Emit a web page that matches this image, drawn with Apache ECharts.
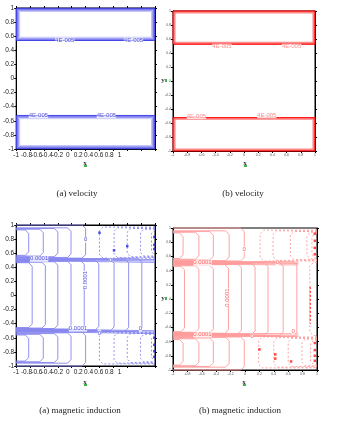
<!DOCTYPE html>
<html><head><meta charset="utf-8">
<script src="https://cdn.jsdelivr.net/npm/echarts@6/dist/echarts.min.js"></script>
<style>html,body{margin:0;padding:0;background:#fff}#c{width:345px;height:425px}</style>
</head><body><div id="c"></div>
<script>
// ---------------- DATA ----------------
const tickLabels = ['-1','-0.8','-0.6','-0.4','-0.2','0','0.2','0.4','0.6','0.8','1'];
const captions = ['(a) velocity','(b) velocity','(a) magnetic induction','(b) magnetic induction'];

// velocity (a): nested contour insets of the two flow cells and cell edges
const velAInsets = [0.004, 0.012, 0.022, 0.034, 0.05];
const velAUpperEdge = 0.535;
const velALowerEdge = -0.52;
const velALabels = [[-0.3, 0.536, '4E-005'], [0.69, 0.536, '4E-005'], [-0.68, -0.52, '4E-005'], [0.3, -0.52, '4E-005']];
// velocity (b)
const velBInsets = [0.004, 0.01, 0.017, 0.026];
const velBUpperEdge = 0.524;
const velBLowerEdge = -0.519;
const velBLabels = [[-0.31, 0.49, '4E-005'], [0.67, 0.49, '4E-005'], [-0.67, -0.5, '4E-005'], [0.32, -0.49, '4E-005']];

// magnetic induction (a)
const cMidX = [-0.77, -0.58, -0.40, -0.21, -0.02, 0.19, 0.41, 0.62, 0.81];
const cMidTopY = [0.465, 0.472, 0.479, 0.486, 0.493, 0.50, 0.507, 0.514, 0.521];
const cMidBotY = [-0.455, -0.462, -0.469, -0.476, -0.483, -0.49, -0.497, -0.504, -0.511];
const cMidDashX = [];
const cTopSolidX = [-0.82, -0.61, -0.40, -0.21, 0.0];
const cTopSolidHigh = [0.93, 0.94, 0.95, 0.96, 1.0];
const cTopSolidLow = [0.57, 0.56, 0.55, 0.54, 0.53];
const cTopDashX = [0.2, 0.41, 0.6, 0.79, 0.95];
const cTopDashHigh = [0.97, 0.96, 0.95, 0.94, 0.93];
const cTopDashLow = [0.53, 0.54, 0.55, 0.56, 0.57];
const cBotSolidX = [-0.82, -0.61, -0.40, -0.21, 0.0];
const cBotSolidHigh = [-0.56, -0.55, -0.54, -0.53, -0.52];
const cBotSolidLow = [-0.93, -0.94, -0.95, -0.96, -1.0];
const cBotDashX = [0.2, 0.41, 0.6, 0.79, 0.95];
const cBotDashHigh = [-0.52, -0.53, -0.54, -0.55, -0.56];
const cBotDashLow = [-0.97, -0.96, -0.95, -0.94, -0.93];
const cBandLeftY = [0.535, 0.515, 0.495, -0.47, -0.49, -0.51];
const cBandRightY = [0.51, 0.49, 0.47, -0.5, -0.52, -0.54];
const cBandEndX = 1;
const cLabels = [[-0.67, 0.52, '0.0001', 0], [0.36, 0.5, '0', 0], [0.0, 0.79, '0', 0], [0.0, 0.22, '0.0001', 90],
                 [-0.11, -0.47, '0.0001', 0], [0.79, -0.47, '0', 0], [0.2, -0.53, '0', 0]];
const cDots = [[0.2, 0.89], [0.41, 0.64], [0.6, 0.7], [0.99, 0.83], [0.99, 0.72], [0.99, 0.66],
               [0.99, -0.6], [0.99, -0.7], [0.99, -0.79], [0.99, -0.87]];

// magnetic induction (b)
const dMidX = [-0.84, -0.64, -0.44, -0.23, -0.05, 0.14, 0.32, 0.53, 0.72];
const dMidTopY = [0.46, 0.468, 0.476, 0.484, 0.492, 0.50, 0.508, 0.516, 0.524];
const dMidBotY = [-0.46, -0.468, -0.476, -0.484, -0.492, -0.50, -0.508, -0.516, -0.524];
const dMidDashX = [0.9];
const dTopSolidX = [-0.86, -0.64, -0.44, -0.22, -0.01];
const dTopSolidHigh = [0.93, 0.94, 0.95, 0.96, 1.0];
const dTopSolidLow = [0.57, 0.56, 0.55, 0.54, 0.535];
const dTopDashX = [0.21, 0.39, 0.63, 0.86, 0.93];
const dTopDashHigh = [0.97, 0.96, 0.95, 0.94, 0.93];
const dTopDashLow = [0.535, 0.545, 0.555, 0.565, 0.575];
const dBotSolidX = [-0.86, -0.64, -0.44, -0.22, -0.01];
const dBotSolidHigh = [-0.57, -0.56, -0.55, -0.54, -0.535];
const dBotSolidLow = [-0.93, -0.94, -0.95, -0.96, -1.0];
const dBotDashX = [0.19, 0.4, 0.6, 0.79, 0.91];
const dBotDashHigh = [-0.535, -0.545, -0.555, -0.565, -0.575];
const dBotDashLow = [-0.97, -0.96, -0.95, -0.94, -0.93];
const dBandLeftY = [0.53, 0.51, 0.49, -0.48, -0.5, -0.52];
const dBandRightY = [0.52, 0.5, 0.48, -0.49, -0.51, -0.53];
const dBandEndX = 0.74;
const dLabels = [[-0.59, 0.51, '0.0001', 0], [0.45, 0.51, '0', 0], [-0.01, 0.7, '0', 0], [-0.24, 0.02, '0.0001', 90],
                 [-0.59, -0.5, '0.0001', 0], [0.1, -0.53, '0', 0], [0.67, -0.46, '0', 0]];
const dDots = [[0.2, -0.71], [0.42, -0.78], [0.42, -0.84], [0.64, -0.88], [0.97, 0.92], [0.97, 0.82],
               [0.97, 0.72], [0.97, 0.63], [0.97, -0.62], [0.97, -0.72], [0.97, -0.8], [0.97, -0.87]];
const dDotted = [[0.906, 0.17], [0.906, -0.35]];

// ---------------- BUILD ----------------
const fmt = v => { const i = Math.round((v + 1) / 0.2); return (i >= 0 && i < tickLabels.length && v <= 1.001) ? tickLabels[i] : ''; };
const grids = [
  {left: 14, top: 8, width: 141, height: 141},
  {left: 173, top: 11, width: 142, height: 140},
  {left: 14, top: 225, width: 141, height: 141},
  {left: 173, top: 228, width: 144, height: 142}
];
const lab = {fontFamily: 'Liberation Sans', fontSize: 6.5, color: '#222', margin: 2, formatter: fmt};
const tiny = {fontFamily: 'Liberation Sans', fontSize: 3.5, color: '#555', margin: 2, formatter: fmt};
const xAxis = [], yAxis = [];
function mainX(g, showLab) {
  xAxis.push({gridIndex: g, type: 'value', min: -1, max: 1, interval: 0.2, position: 'bottom',
    axisLine: {show: true, onZero: false, lineStyle: {color: '#000', width: 1}},
    axisTick: {show: true, length: 2, lineStyle: {color: '#000'}},
    axisLabel: showLab ? tiny : {show: false}, splitLine: {show: false}});
  return xAxis.length - 1;
}
function topX(g) {
  xAxis.push({gridIndex: g, type: 'value', min: -1, max: 1, interval: 0.2, position: 'top',
    axisLine: {show: true, onZero: false, lineStyle: {color: '#000'}},
    axisTick: {show: true, length: 2, lineStyle: {color: '#000'}}, axisLabel: {show: false}, splitLine: {show: false}});
}
function squeezedX(g) {
  xAxis.push({gridIndex: g, type: 'value', min: -1, max: 1.686, interval: 0.2, position: 'bottom',
    axisLine: {show: false, onZero: false}, axisTick: {show: false}, axisLabel: Object.assign({}, lab, {margin: 3}), splitLine: {show: false}});
}
function mainY(g, style) {
  yAxis.push({gridIndex: g, type: 'value', min: -1, max: 1, interval: 0.2,
    axisLine: {show: true, onZero: false, lineStyle: {color: '#000'}},
    axisTick: {show: true, length: 2, lineStyle: {color: '#000'}},
    axisLabel: style, splitLine: {show: false}});
  yAxis.push({gridIndex: g, type: 'value', min: -1, max: 1, interval: 0.2, position: 'right',
    axisLine: {show: true, onZero: false, lineStyle: {color: '#000'}},
    axisTick: {show: true, length: 2, lineStyle: {color: '#000'}}, axisLabel: {show: false}, splitLine: {show: false}});
  return yAxis.length - 2;
}
const xa = mainX(0, false); topX(0); squeezedX(0);
const xb = mainX(1, true);
const xc = mainX(2, false); topX(2); squeezedX(2);
const xd = mainX(3, true);
const ya = mainY(0, lab), yb = mainY(1, tiny), yc = mainY(2, lab), yd = mainY(3, tiny);

const series = [];
function addLine(path, xi, yi, color, width, dashed) {
  series.push({type: 'line', xAxisIndex: xi, yAxisIndex: yi, data: path, symbol: 'none', silent: true,
    animation: false, clip: false, lineStyle: {color: color, width: width, type: dashed ? [2, 2] : 'solid'}, z: 2});
}
function addLabels(items, xi, yi, color) {
  series.push({type: 'scatter', xAxisIndex: xi, yAxisIndex: yi, symbolSize: 0, silent: true, animation: false, z: 5,
    data: items.map(d => ({value: [d[0], d[1]], name: d[2], label: {rotate: d[3] || 0}})),
    label: {show: true, position: 'inside', formatter: p => p.name, color: color, fontSize: 6,
      fontFamily: 'Liberation Sans', backgroundColor: '#fff', padding: [0, 0]}});
}
function addDots(items, xi, yi, color) {
  series.push({type: 'scatter', xAxisIndex: xi, yAxisIndex: yi, symbol: 'rect', symbolSize: 2.5, silent: true,
    animation: false, z: 4, itemStyle: {color: color}, data: items});
}
function velocity(insets, up, lo, xi, yi, colors, width) {
  insets.forEach((o, k) => {
    addLine([[-1 + o, up + o], [1 - o, up + o], [1 - o, 1 - o], [-1 + o, 1 - o], [-1 + o, up + o]], xi, yi, colors[k], width);
    addLine([[-1 + o, lo - o], [1 - o, lo - o], [1 - o, -1 + o], [-1 + o, -1 + o], [-1 + o, lo - o]], xi, yi, colors[k], width);
  });
}
const b = 0.05, dr = 0.05;
function leftBend(x0, yHigh, yLow) {
  return [[-1, yHigh], [x0 - b, yHigh], [x0, yHigh - dr], [x0, yLow + dr], [x0 - b, yLow], [-1, yLow]];
}
function rightBend(x0, yHigh, yLow) {
  return [[1, yHigh], [x0 + b, yHigh], [x0, yHigh - dr], [x0, yLow + dr], [x0 + b, yLow], [1, yLow]];
}
function induction(P, xi, yi, color, w) {
  P.midX.forEach((x, k) => addLine(leftBend(x, P.midTop[k], P.midBot[k]), xi, yi, color, w));
  P.midDX.forEach(x => addLine(rightBend(x, P.midTop[P.midTop.length - 1] - 0.01, P.midBot[P.midBot.length - 1] + 0.01), xi, yi, color, w, true));
  P.topSX.forEach((x, k) => addLine(leftBend(x, P.topSH[k], P.topSL[k]), xi, yi, color, w));
  P.topDX.forEach((x, k) => addLine(rightBend(x, P.topDH[k], P.topDL[k]), xi, yi, color, w, true));
  P.botSX.forEach((x, k) => addLine(leftBend(x, P.botSH[k], P.botSL[k]), xi, yi, color, w));
  P.botDX.forEach((x, k) => addLine(rightBend(x, P.botDH[k], P.botDL[k]), xi, yi, color, w, true));
  P.bandL.forEach((y, k) => addLine([[-1, y], [P.bandEnd, P.bandR[k]]], xi, yi, color, w));
}

velocity(velAInsets, velAUpperEdge, velALowerEdge, xa, ya, ['#3a3ae6', '#5656ec', '#7474f0', '#9898f4', '#c4c4f9'], 1);
addLabels(velALabels, xa, ya, '#2828d8');
velocity(velBInsets, velBUpperEdge, velBLowerEdge, xb, yb, ['#ff0000', '#ff1a1a', '#ff4848', '#ff8a8a'], 1.4);
addLabels(velBLabels, xb, yb, '#ff7070');

induction({midX: cMidX, midTop: cMidTopY, midBot: cMidBotY, midDX: cMidDashX, topSX: cTopSolidX, topSH: cTopSolidHigh, topSL: cTopSolidLow,
  topDX: cTopDashX, topDH: cTopDashHigh, topDL: cTopDashLow, botSX: cBotSolidX, botSH: cBotSolidHigh, botSL: cBotSolidLow,
  botDX: cBotDashX, botDH: cBotDashHigh, botDL: cBotDashLow, bandL: cBandLeftY, bandR: cBandRightY, bandEnd: cBandEndX}, xc, yc, '#8686ee', 0.9);
addDots(cDots, xc, yc, '#2424e0');
addLabels(cLabels, xc, yc, '#2828d8');

induction({midX: dMidX, midTop: dMidTopY, midBot: dMidBotY, midDX: dMidDashX, topSX: dTopSolidX, topSH: dTopSolidHigh, topSL: dTopSolidLow,
  topDX: dTopDashX, topDH: dTopDashHigh, topDL: dTopDashLow, botSX: dBotSolidX, botSH: dBotSolidHigh, botSL: dBotSolidLow,
  botDX: dBotDashX, botDH: dBotDashHigh, botDL: dBotDashLow, bandL: dBandLeftY, bandR: dBandRightY, bandEnd: dBandEndX}, xd, yd, '#ff9a9a', 0.9);
addLine(dDotted, xd, yd, '#ff3030', 1.3, true);
addDots(dDots, xd, yd, '#ff1a1a');
addLabels(dLabels, xd, yd, '#ff4040');

const serif = '"Liberation Serif", "DejaVu Serif", serif';
const graphic = [];
const capPos = [[77, 194], [243, 194], [80, 411], [240, 411]];
captions.forEach((t, i) => graphic.push({type: 'text', x: capPos[i][0], y: capPos[i][1], silent: true,
  style: {text: t, font: '9px ' + serif, fill: '#222', textAlign: 'center', textVerticalAlign: 'middle'}}));
const xNamePos = [[85, 163], [245, 163], [85, 382], [244, 382]];
xNamePos.forEach(p => {
  graphic.push({type: 'text', x: p[0], y: p[1], silent: true,
    style: {text: 'x', font: 'bold 7px ' + serif, fill: '#333', textAlign: 'center', textVerticalAlign: 'middle'}});
  graphic.push({type: 'rect', shape: {x: p[0] - 1, y: p[1] + 2, width: 3, height: 2}, silent: true, style: {fill: '#39b54a'}});
});
[[163, 80], [163, 298]].forEach(p => {
  graphic.push({type: 'text', x: p[0], y: p[1], silent: true,
    style: {text: 'y', font: 'bold 7px ' + serif, fill: '#333', textAlign: 'center', textVerticalAlign: 'middle'}});
  graphic.push({type: 'rect', shape: {x: p[0] + 2, y: p[1] - 1, width: 2, height: 3}, silent: true, style: {fill: '#39b54a'}});
});

const chart = echarts.init(document.getElementById('c'), null, {renderer: 'canvas'});
chart.setOption({animation: false, backgroundColor: '#fff',
  grid: grids.map(g => Object.assign({show: true, borderColor: '#000', borderWidth: 1, backgroundColor: '#fff'}, g)),
  xAxis: xAxis, yAxis: yAxis, series: series, graphic: graphic});
</script>
</body></html>
